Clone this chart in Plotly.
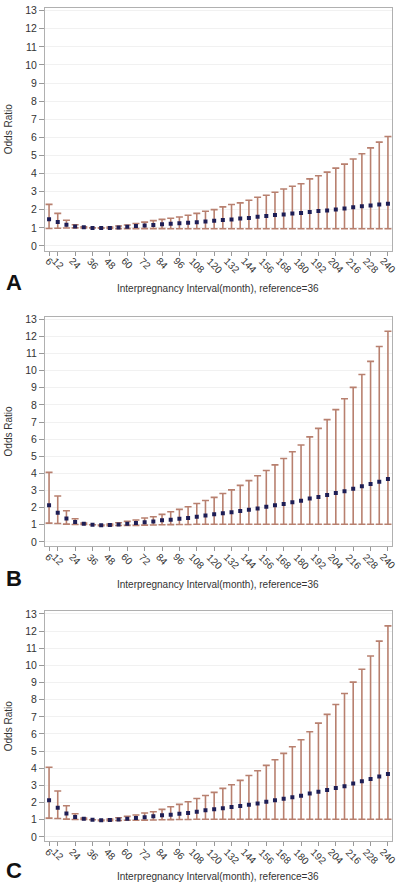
import plotly.graph_objects as go

months = [6, 12, 18, 24, 30, 36, 42, 48, 54, 60, 66, 72, 78, 84, 90, 96, 102, 108, 114, 120,
          126, 132, 138, 144, 150, 156, 162, 168, 174, 180, 186, 192, 198, 204, 210, 216, 222, 228, 234, 240]
tick_vals = [6, 12, 24, 36, 48, 60, 72, 84, 96, 108, 120, 132, 144, 156, 168, 180, 192, 204, 216, 228, 240]
tick_text = ["6", "12", "24", "36", "48", "60", "72", "84", "96", "108", "120", "132", "144", "156",
             "168", "180", "192", "204", "216", "228", "240"]
y_ticks = [0, 1, 2, 3, 4, 5, 6, 7, 8, 9, 10, 11, 12, 13]

# Panel A
a_or = [1.48, 1.33, 1.17, 1.08, 1.03, 1.00, 0.99, 1.00, 1.02, 1.06, 1.10, 1.13, 1.16, 1.20, 1.23, 1.26, 1.28, 1.31, 1.35, 1.39,
        1.43, 1.47, 1.52, 1.55, 1.62, 1.65, 1.71, 1.74, 1.79, 1.82, 1.88, 1.93, 1.96, 2.01, 2.07, 2.14, 2.19, 2.23, 2.29, 2.34]
a_hi = [2.30, 1.80, 1.42, 1.17, 1.06, 1.00, 1.01, 1.04, 1.10, 1.16, 1.24, 1.32, 1.40, 1.47, 1.53, 1.60, 1.70, 1.80, 1.92, 2.01,
        2.16, 2.29, 2.38, 2.53, 2.69, 2.80, 2.97, 3.15, 3.30, 3.44, 3.71, 3.88, 4.08, 4.30, 4.52, 4.81, 5.10, 5.42, 5.74, 6.05]
a_lo = [0.97, 0.98, 0.99, 1.00, 1.00, 1.00, 0.98, 0.97, 0.96, 0.96, 0.96, 0.96, 0.96, 0.96, 0.95, 0.95, 0.95, 0.95, 0.95, 0.95,
        0.95, 0.95, 0.95, 0.95, 0.95, 0.95, 0.95, 0.95, 0.95, 0.95, 0.95, 0.95, 0.95, 0.95, 0.95, 0.95, 0.95, 0.95, 0.95, 0.95]

# Panel B
b_or = [2.14, 1.70, 1.37, 1.17, 1.06, 1.00, 0.97, 0.99, 1.02, 1.06, 1.10, 1.15, 1.20, 1.26, 1.30, 1.35, 1.40, 1.47, 1.55, 1.61,
        1.67, 1.74, 1.80, 1.88, 1.95, 2.05, 2.14, 2.22, 2.32, 2.40, 2.53, 2.63, 2.74, 2.86, 2.96, 3.11, 3.25, 3.38, 3.52, 3.67]
b_hi = [4.06, 2.68, 1.82, 1.35, 1.10, 1.00, 0.99, 1.04, 1.12, 1.20, 1.28, 1.40, 1.47, 1.61, 1.76, 1.90, 2.05, 2.24, 2.42, 2.60,
        2.83, 3.04, 3.30, 3.58, 3.86, 4.17, 4.50, 4.87, 5.26, 5.66, 6.13, 6.63, 7.14, 7.72, 8.36, 9.02, 9.77, 10.54, 11.41, 12.30]
b_lo = [1.10, 1.08, 1.04, 1.02, 1.02, 1.00, 0.95, 0.95, 0.96, 0.97, 0.97, 0.98, 0.99, 1.00, 1.01, 1.02, 1.02, 1.03, 1.03, 1.03,
        1.03, 1.03, 1.03, 1.03, 1.03, 1.03, 1.03, 1.03, 1.03, 1.03, 1.03, 1.03, 1.03, 1.03, 1.03, 1.03, 1.03, 1.03, 1.03, 1.03]

# Panel C
c_or = list(b_or)
c_hi = list(b_hi)
c_lo = list(b_lo)

panel_letters = ["A", "B", "C"]
x_title = "Interpregnancy Interval(month), reference=36"
y_title = "Odds Ratio"

W, H = 400, 888
BAR_COLOR = "#b8806f"
DOT_COLOR = "#1e1e55"
TXT = "#333333"
FONT = "Liberation Sans, Arial, sans-serif"

# pixel layout of each panel: (top, bottom) of plot frame
frames = [(4.0, 247.9), (314.4, 545.3), (610.7, 842.0)]
x_left, x_right = 45, 392
letter_y = [280, 578, 871]
title_y = [286, 584, 877]
label_offset = {1: 11.5, 2: 13.5, 3: 15.5}

fig = go.Figure()
data = [(a_or, a_lo, a_hi), (b_or, b_lo, b_hi), (c_or, c_lo, c_hi)]

for i, (est, lo, hi) in enumerate(data):
    n = "" if i == 0 else str(i + 1)
    fig.add_trace(go.Scatter(
        x=months, y=est, mode="markers",
        xaxis="x" + n, yaxis="y" + n,
        marker=dict(color=DOT_COLOR, size=4, symbol="square"),
        error_y=dict(type="data", symmetric=False,
                     array=[h - e for h, e in zip(hi, est)],
                     arrayminus=[e - l for e, l in zip(est, lo)],
                     color=BAR_COLOR, thickness=1.6, width=3.5),
        showlegend=False, hoverinfo="x+y",
    ))
    top, bot = frames[i]
    ax = dict(
        domain=[x_left / W, x_right / W], range=[3.2, 242.8],
        tickmode="array", tickvals=tick_vals, showticklabels=False,
        ticks="outside", ticklen=4, tickcolor="#999", tickwidth=1,
        showline=True, linecolor="#b0b0b0", linewidth=1, mirror=True,
        showgrid=False, zeroline=False, anchor="y" + n,
    )
    ay = dict(
        domain=[1 - bot / H, 1 - top / H], range=[-0.25, 13.15],
        tickmode="array", tickvals=y_ticks,
        ticks="outside", ticklen=5, tickcolor="#999", tickwidth=1,
        tickfont=dict(family=FONT, size=10.5, color=TXT),
        showline=True, linecolor="#b0b0b0", linewidth=1, mirror=True,
        showgrid=True, gridcolor="#f1f1f1", gridwidth=1, zeroline=False,
        anchor="x" + n,
    )
    fig.update_layout(**{"xaxis" + n: ax, "yaxis" + n: ay})

    # rotated tick labels centred under each tick
    for tv, tt in zip(tick_vals, tick_text):
        fig.add_annotation(x=tv, xref="x" + n, y=1 - (bot + label_offset[len(tt)]) / H, yref="paper",
                           text=tt, textangle=45, showarrow=False,
                           xanchor="center", yanchor="middle",
                           font=dict(family=FONT, size=10, color=TXT))

    fig.add_annotation(x=218 / W, y=1 - title_y[i] / H, xref="paper", yref="paper",
                       text=x_title, showarrow=False, xanchor="center", yanchor="middle",
                       font=dict(family=FONT, size=10, color=TXT))
    fig.add_annotation(x=8 / W, y=1 - (top + bot) / 2 / H, xref="paper", yref="paper",
                       text=y_title, textangle=-90, showarrow=False,
                       xanchor="center", yanchor="middle",
                       font=dict(family=FONT, size=10, color=TXT))
    fig.add_annotation(x=14 / W, y=1 - letter_y[i] / H, xref="paper", yref="paper",
                       text="<b>" + panel_letters[i] + "</b>", showarrow=False,
                       xanchor="center", yanchor="middle",
                       font=dict(family=FONT, size=22, color="#111"))

fig.update_layout(
    width=W, height=H, margin=dict(l=0, r=0, t=0, b=0),
    paper_bgcolor="white", plot_bgcolor="white",
)
fig.write_html(
    "out.html",
    config={"displayModeBar": False},
    post_script="document.body.style.margin='0';document.body.style.overflow='hidden';",
)
